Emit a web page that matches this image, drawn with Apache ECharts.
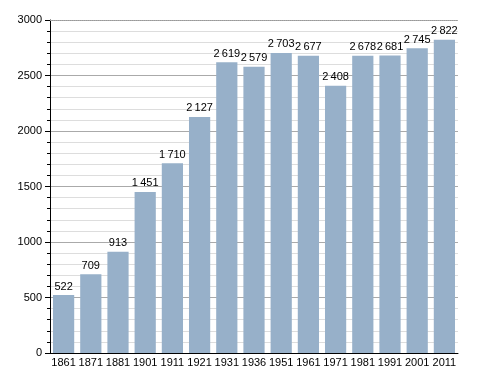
<!DOCTYPE html>
<html><head><meta charset="utf-8">
<script src="https://cdn.jsdelivr.net/npm/echarts@6/dist/echarts.min.js"></script>
<style>html,body{margin:0;padding:0;background:#fff}#c{width:488px;height:373px}</style>
</head><body><div id="c"></div>
<script>
var years = ['1861','1871','1881','1901','1911','1921','1931','1936','1951','1961','1971','1981','1991','2001','2011'];
var population = [522,709,913,1451,1710,2127,2619,2579,2703,2677,2408,2678,2681,2745,2822];
var yTicks = [0,500,1000,1500,2000,2500,3000];

function fmt(v){
  var s = String(v);
  if (s.length > 3) s = s.slice(0, s.length-3) + '\u2009' + s.slice(-3);
  return s;
}
var chart = echarts.init(document.getElementById('c'));
chart.setOption({
  animation:false,
  textStyle:{fontFamily:'Liberation Sans, Arial, sans-serif'},
  grid:{left:50,right:30,top:20,bottom:20},
  xAxis:{type:'category',data:years,
    axisLine:{lineStyle:{color:'#000',width:1}},
    axisTick:{show:false},
    axisLabel:{color:'#000',fontSize:11,margin:4,interval:0}},
  yAxis:{type:'value',min:yTicks[0],max:yTicks[yTicks.length-1],interval:500,
    axisLine:{show:true,lineStyle:{color:'#000'}},
    axisTick:{show:true,length:5,lineStyle:{color:'#000'}},
    minorTick:{show:true,splitNumber:5,length:3,lineStyle:{color:'#000'}},
    splitLine:{show:true,lineStyle:{color:'#aaa',width:1}},
    minorSplitLine:{show:true,lineStyle:{color:'#ddd',width:1}},
    axisLabel:{color:'#000',fontSize:11,margin:8,formatter:function(v){return String(v);}}},
  series:[{type:'bar',data:population,barCategoryGap:'22%',
    itemStyle:{color:'#97b0c9'},
    label:{show:true,position:'top',color:'#000',fontSize:11,distance:3,formatter:function(p){return fmt(p.value);}},
    markLine:{silent:true,symbol:'none',label:{show:false},
      lineStyle:{color:'#999',type:'dotted',width:1},
      data:[{yAxis:yTicks[yTicks.length-1]}]}}]
});
</script></body></html>
